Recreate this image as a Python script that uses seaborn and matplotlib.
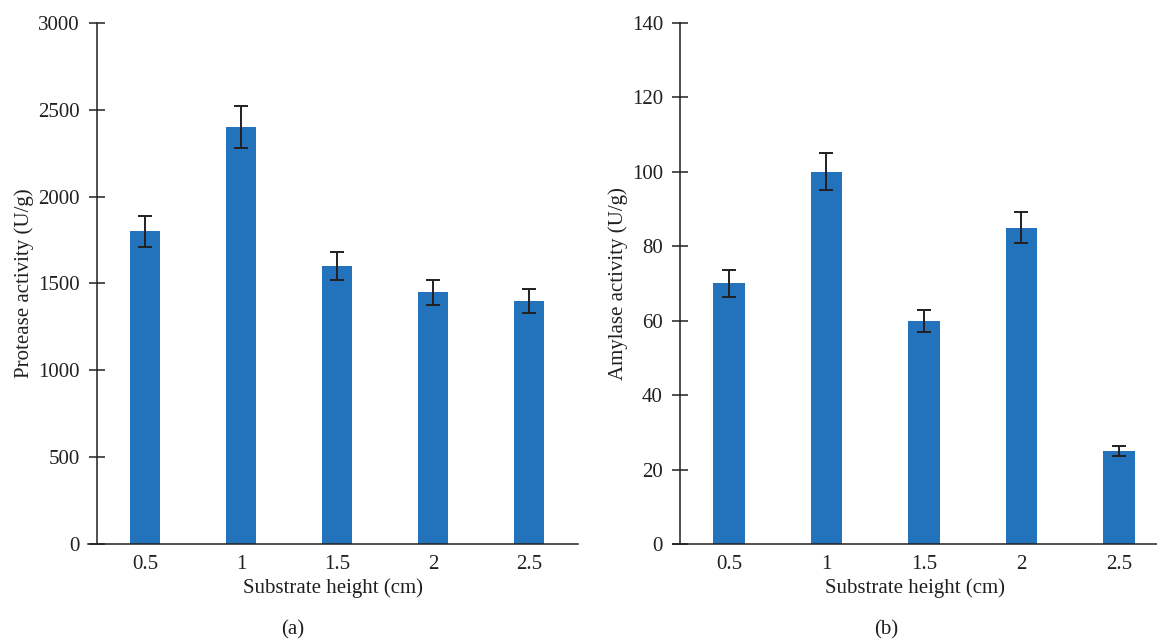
import numpy as np
import pandas as pd
import matplotlib
matplotlib.use('Agg')
import matplotlib.pyplot as plt
import seaborn as sns

# data
heights = ['0.5', '1', '1.5', '2', '2.5']
protease = [1800, 2400, 1600, 1450, 1400]
protease_err = [90, 120, 80, 72, 70]
amylase = [70, 100, 60, 85, 25]
amylase_err = [3.5, 5, 3, 4.2, 1.3]

sns.set_style('white')
plt.rcParams['font.family'] = ['Liberation Serif', 'DejaVu Serif']
plt.rcParams['font.size'] = 15

bar_col = '#2372BC'
ink = '#231F20'

fig = plt.figure(figsize=(11.57, 6.39), dpi=100)
ax1 = fig.add_axes([0.0761, 0.1487, 0.4235, 0.8153])
ax2 = fig.add_axes([0.5817, 0.1487, 0.4183, 0.8153])


def panel(ax, vals, errs, ylabel, ymax, step, xl, spine_x, tag_x, tag):
    df = pd.DataFrame({'height': heights, 'value': vals})
    sns.barplot(data=df, x='height', y='value', color=bar_col, width=0.32,
                saturation=1, errorbar=None, linewidth=0, ax=ax)
    ax.errorbar(np.arange(len(vals)), vals, yerr=errs, fmt='none',
                ecolor=ink, elinewidth=1.4, capsize=5, capthick=1.4)
    ax.set_xlim(*xl)
    ax.set_ylim(0, ymax)
    ax.set_yticks(np.arange(0, ymax + 1, step))
    for s in ['top', 'right']:
        ax.spines[s].set_visible(False)
    for s in ['left', 'bottom']:
        ax.spines[s].set_color(ink)
        ax.spines[s].set_linewidth(1.1)
    ax.spines['left'].set_position(('data', spine_x))
    ax.tick_params(axis='y', left=True, direction='inout', length=11.5,
                   width=1.1, color=ink, labelcolor=ink, pad=6.5, labelsize=15)
    ax.tick_params(axis='x', bottom=False, length=0, pad=8, labelcolor=ink,
                   labelsize=15)
    ax.set_xlabel('Substrate height (cm)', color=ink, fontsize=15, labelpad=3)
    ax.set_ylabel(ylabel, color=ink, fontsize=15, labelpad=3)
    ax.text(tag_x, -0.165, tag, transform=ax.transAxes,
            ha='center', va='center', color=ink, fontsize=15)


panel(ax1, protease, protease_err, 'Protease activity (U/g)', 3000, 500,
      (-0.594, 4.51), -0.5, (293 - 88) / 490, '(a)')
panel(ax2, amylase, amylase_err, 'Amylase activity (U/g)', 140, 20,
      (-0.574, 4.39), -0.503, (886 - 673) / 484, '(b)')

fig.savefig('out.png', dpi=100)
